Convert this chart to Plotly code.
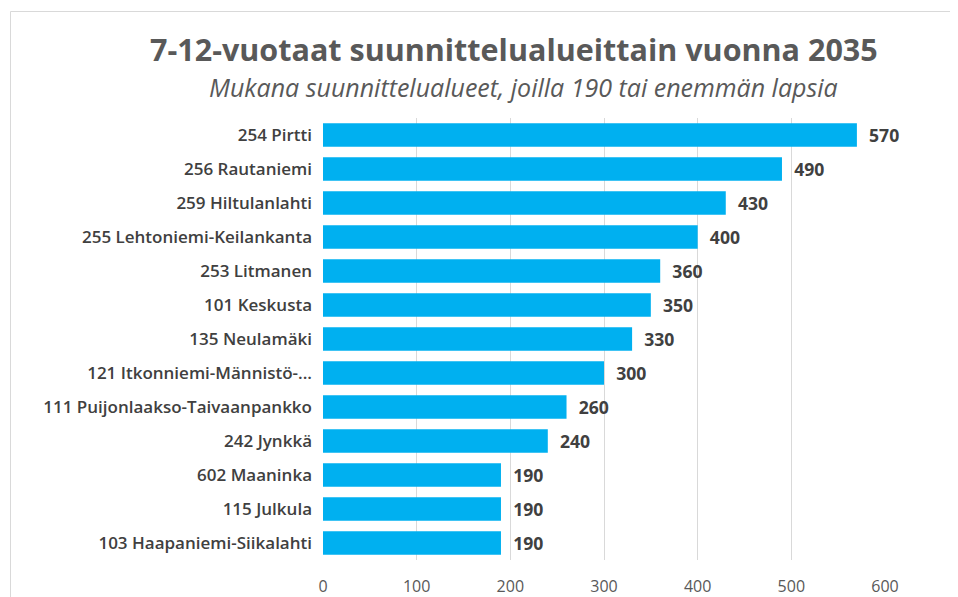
import plotly.graph_objects as go

categories = [
    "254 Pirtti", "256 Rautaniemi", "259 Hiltulanlahti", "255 Lehtoniemi-Keilankanta",
    "253 Litmanen", "101 Keskusta", "135 Neulamäki", "121 Itkonniemi-Männistö-...",
    "111 Puijonlaakso-Taivaanpankko", "242 Jynkkä", "602 Maaninka", "115 Julkula",
    "103 Haapaniemi-Siikalahti",
]
values = [570, 490, 430, 400, 360, 350, 330, 300, 260, 240, 190, 190, 190]
x_ticks = [0, 100, 200, 300, 400, 500, 600]

title_text = "7-12-vuotaat suunnittelualueittain vuonna 2035"
subtitle_text = "Mukana suunnittelualueet, joilla 190 tai enemmän lapsia"

FONT = "'Open Sans', Lato, sans-serif"

fig = go.Figure(go.Bar(
    y=categories, x=values, orientation="h",
    marker=dict(color="#00B0F0", line=dict(width=0)),
    text=values, texttemplate="  %{x}", textposition="outside", cliponaxis=False,
    textfont=dict(family=FONT, size=18, color="#404040", weight="bold"),
))

# page body has an 8px margin, so target pixel positions are shifted by -8
OFF = 8
L, R, T, B = 323 - OFF, 885 - OFF, 118 - OFF, 560 - OFF
W, H = 958, 597
pw, ph = R - L, B - T

fig.update_layout(
    width=W, height=H,
    margin=dict(l=L, r=W - R, t=T, b=H - B, autoexpand=False),
    paper_bgcolor="white", plot_bgcolor="white",
    showlegend=False,
    bargap=0.31,
    font=dict(family=FONT, color="#595959"),
    xaxis=dict(range=[0, 600], tickvals=x_ticks, showgrid=True, gridcolor="#d9d9d9",
               gridwidth=1, zeroline=False, showline=False, automargin=False,
               tickfont=dict(size=16, color="#595959"), ticklabelstandoff=15),
    yaxis=dict(autorange="reversed", showgrid=False, zeroline=False, showline=False,
               automargin=False,
               tickfont=dict(size=17, color="#404040", weight=600),
               ticklabelstandoff=10),
    annotations=[
        dict(text=title_text, xref="paper", yref="paper",
             x=(514 - OFF - L) / pw, y=(B - (49 - OFF)) / ph, xanchor="center", yanchor="middle",
             showarrow=False, font=dict(family=FONT, size=30.5, color="#595959", weight="bold")),
        dict(text="<i>" + subtitle_text + "</i>", xref="paper", yref="paper",
             x=(523 - OFF - L) / pw, y=(B - (87 - OFF)) / ph, xanchor="center", yanchor="middle",
             showarrow=False, font=dict(family=FONT, size=25, color="#595959")),
    ],
    shapes=[dict(type="rect", xref="paper", yref="paper",
                 x0=(10.5 - OFF - L) / pw, x1=(1000 - L) / pw,
                 y0=(B - 640) / ph, y1=(B - (11.5 - OFF)) / ph,
                 line=dict(color="#d9d9d9", width=1), fillcolor="rgba(0,0,0,0)")],
)

fig.write_html("out.html")
